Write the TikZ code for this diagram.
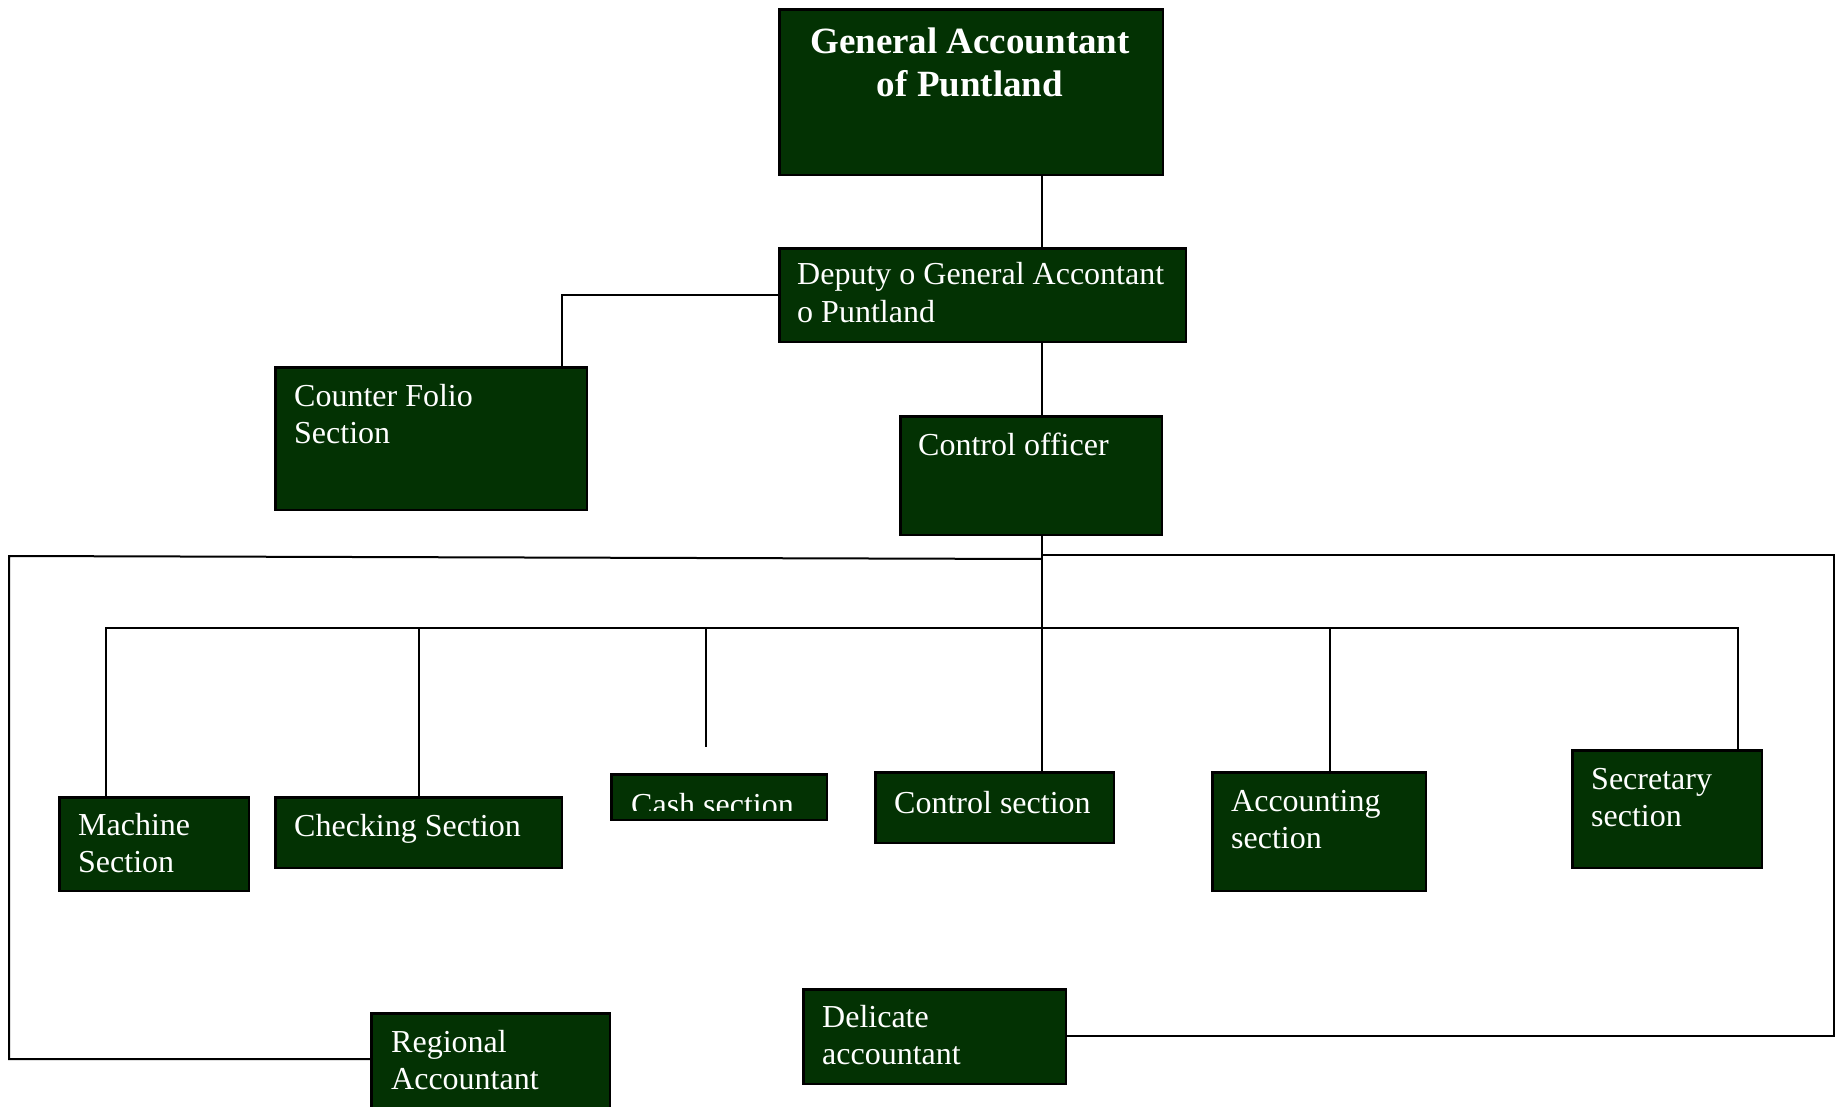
\documentclass[tikz,border=0pt]{standalone}
\usepackage{fontspec}
\setmainfont{Liberation Serif}
\definecolor{boxgreen}{RGB}{3,50,3}
\tikzset{
  box/.style={draw=black, line width=2.5pt, fill=boxgreen, inner sep=0pt, anchor=north west},
  txt/.style={text=white, inner sep=0pt, anchor=base west, font=\fontsize{32}{37}\selectfont},
  link/.style={draw=black, line width=2pt},
}
\newcommand{\twoln}[2]{\vtop{\baselineskip=37pt\hbox{#1}\hbox{#2}}}
\begin{document}
\begin{tikzpicture}[x=1pt,y=-1pt]
\useasboundingbox (0,0) rectangle (1836,1107);
\clip (0,0) rectangle (1836,1107);
% boxes
\node[box, minimum width=383.5pt, minimum height=165.5pt] (gen)  at (778.25,8.25) {};
\node[box, minimum width=406.5pt, minimum height=93.5pt]  (dep)  at (778.25,247.25) {};
\node[box, minimum width=311.5pt, minimum height=142.5pt] (cf)   at (274.25,366.25) {};
\node[box, minimum width=261.5pt, minimum height=118.5pt] (co)   at (899.25,415.25) {};
\node[box, minimum width=189.5pt, minimum height=93.5pt]  (mach) at (58.25,796.25) {};
\node[box, minimum width=286.5pt, minimum height=70.5pt]  (chk)  at (274.25,796.25) {};
\node[box, minimum width=215.5pt, minimum height=45.5pt]  (cash) at (610.25,773.25) {};
\node[box, minimum width=238.5pt, minimum height=70.5pt]  (csec) at (874.25,771.25) {};
\node[box, minimum width=213.5pt, minimum height=118.5pt] (acc)  at (1211.25,771.25) {};
\node[box, minimum width=189.5pt, minimum height=117.5pt] (sec)  at (1571.25,749.25) {};
\node[box, minimum width=238.5pt, minimum height=115pt]   (reg)  at (370.25,1012.25) {};
\node[box, minimum width=262.5pt, minimum height=94.5pt]  (del)  at (802.25,988.25) {};
% texts
\node[txt, anchor=base, font=\fontsize{37}{43}\selectfont\bfseries] (tgen) at (970,54)
  {\vtop{\baselineskip=43pt\hbox to 0pt{\hss General Accountant\hss}\hbox to 0pt{\hss of Puntland\hss}}};
\node[txt] (tdep)  at (797,285)  {\twoln{Deputy o General Accontant}{o Puntland}};
\node[txt] (tcf)   at (294,406)  {\twoln{Counter Folio}{Section}};
\node[txt] (tco)   at (918,455)  {Control officer};
\node[txt] (tmach) at (78,835)   {\twoln{Machine}{Section}};
\node[txt] (tchk)  at (294,836)  {Checking Section};
\begin{scope}
  \clip (609,772) rectangle (827,810);
  \node[txt] (tcash) at (631,815) {Cash section};
\end{scope}
\node[txt] (tcsec) at (894,813)  {Control section};
\node[txt] (tacc)  at (1231,811) {\twoln{Accounting}{section}};
\node[txt] (tsec)  at (1591,789) {\twoln{Secretary}{section}};
\node[txt] (treg)  at (391,1052) {\twoln{Regional}{Accountant}};
\node[txt] (tdel)  at (822,1027) {\twoln{Delicate}{accountant}};
% coordinates
\coordinate (spine) at (1042,0);
\coordinate (cfx) at (562,0);
\coordinate (busL) at (106,628);
\coordinate (busR) at (1738,628);
\coordinate (cashend) at (706,747);
\coordinate (accx) at (1330,0);
\coordinate (frTL) at (9,556);
\coordinate (frTM) at (1042,559);
\coordinate (frTR) at (1834,555);
\coordinate (frBL) at (9,1059);
\coordinate (frBR) at (1834,1036);
% connectors
\draw[link] (gen.south -| spine) -- (dep.north -| spine);
\draw[link] (dep.west) -| (cf.north -| cfx);
\draw[link] (dep.south -| spine) -- (co.north -| spine);
\draw[link] (co.south -| spine) -- (csec.north -| spine);
\draw[link] (mach.north -| busL) -- (busL) -- (busR) -- (sec.north -| busR);
\draw[link] (chk.north) -- (chk.north |- busL);
\draw[link] (cashend |- busL) -- (cashend);
\draw[link] (acc.north -| accx) -- (accx |- busL);
% outer frame connectors
\draw[link] (frTM) -- (frTL) -- (frBL) -- (reg.west |- frBL);
\draw[link] (spine |- frTR) -- (frTR) -- (frBR) -- (del.east |- frBR);
\end{tikzpicture}
\end{document}
